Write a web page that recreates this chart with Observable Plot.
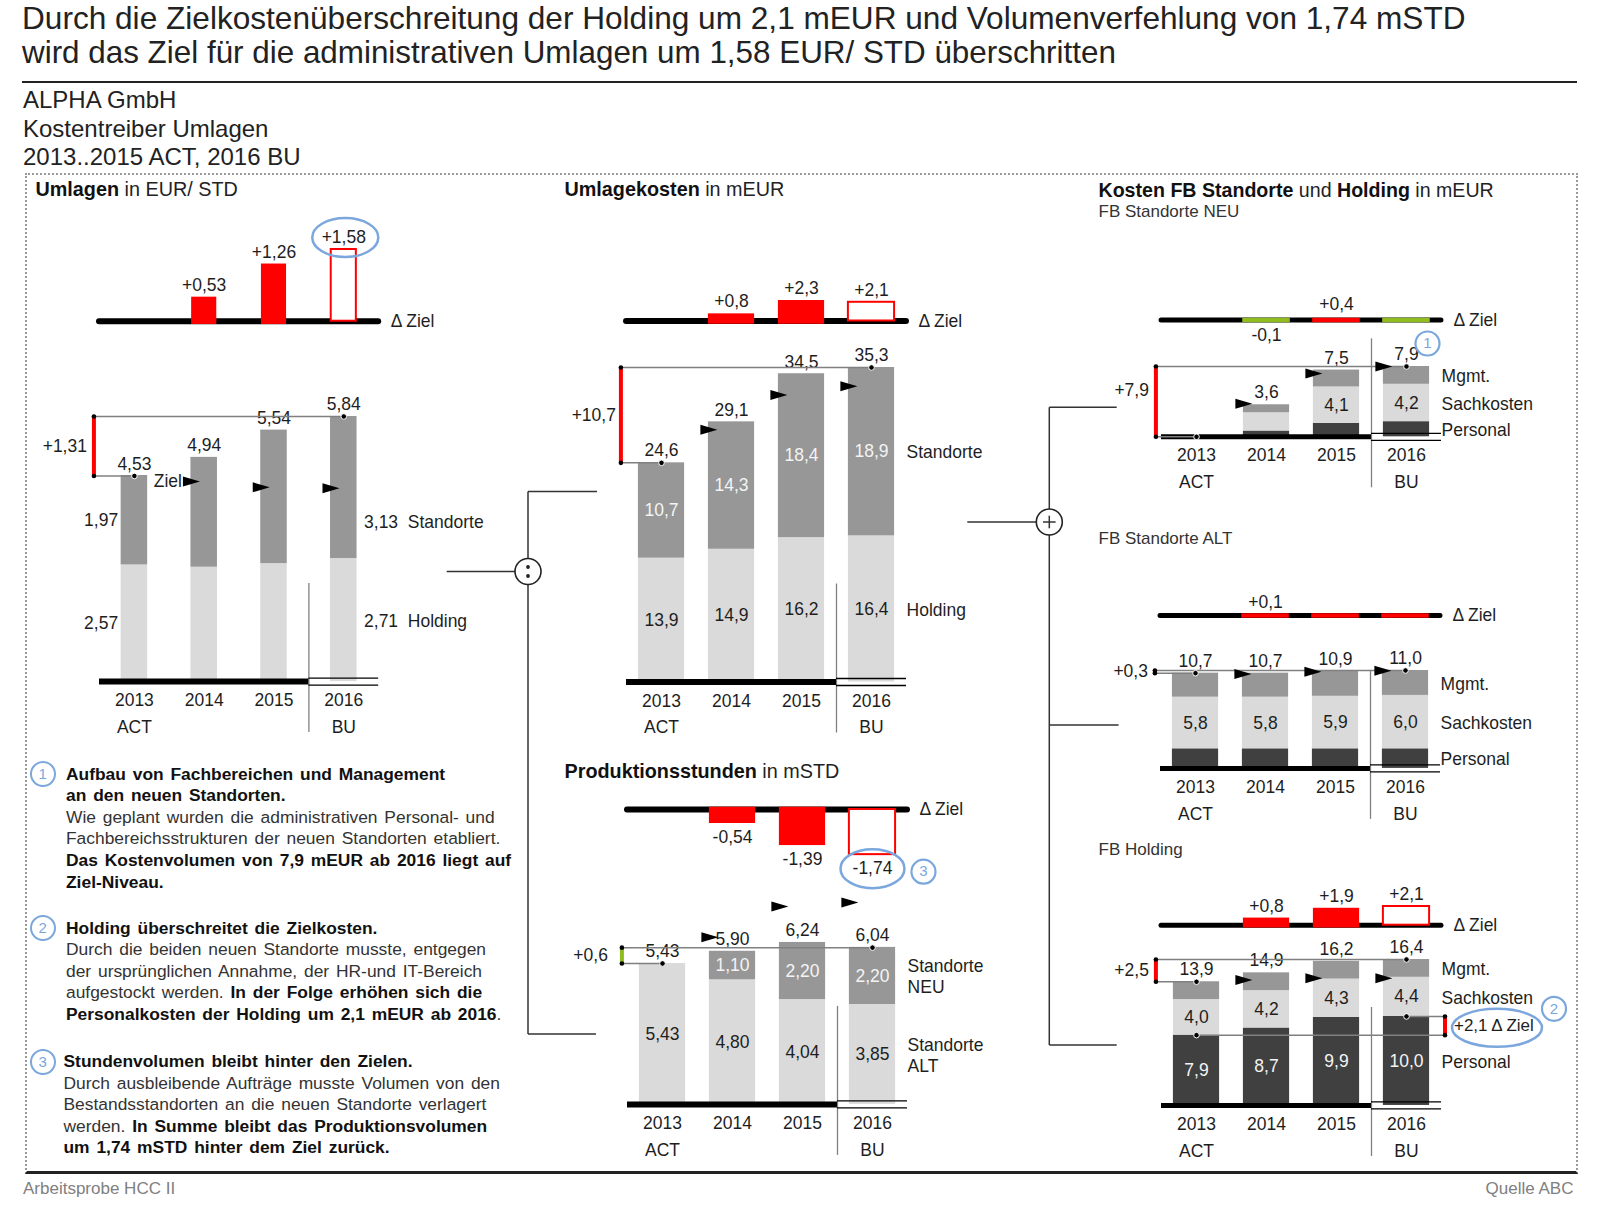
<!DOCTYPE html>
<html><head><meta charset="utf-8">
<script src="https://cdn.jsdelivr.net/npm/d3@7"></script>
<script src="https://cdn.jsdelivr.net/npm/@observablehq/plot@0.6"></script>
<style>
html,body{margin:0;padding:0;background:#fff;}
#root{position:relative;width:1600px;height:1212px;overflow:hidden;font-family:"Liberation Sans",Arial,Helvetica,sans-serif;color:#222;background:#fff;}
.t{position:absolute;white-space:pre;}
.t b{font-weight:bold;color:#111;}
</style></head><body><div id="root"></div>
<script>
// ---------------- DATA ----------------
const years = ["2013", "2014", "2015", "2016"];
const scen = ["ACT", "", "", "BU"];

// Umlagen in EUR/STD
const umlHolding = [2.57, 2.52, 2.60, 2.71];
const umlStandorte = [1.97, 2.42, 2.94, 3.13];
const umlTotal = [4.53, 4.94, 5.54, 5.84];
const umlDelta = [null, 0.53, 1.26, 1.58];

// Umlagekosten in mEUR
const ukHolding = [13.9, 14.9, 16.2, 16.4];
const ukStandorte = [10.7, 14.3, 18.4, 18.9];
const ukTotal = [24.6, 29.1, 34.5, 35.3];
const ukDelta = [null, 0.8, 2.3, 2.1];

// Produktionsstunden in mSTD
const psAlt = [5.43, 4.80, 4.04, 3.85];
const psNeu = [0, 1.10, 2.20, 2.20];
const psTotal = [5.43, 5.90, 6.24, 6.04];
const psDelta = [null, -0.54, -1.39, -1.74];

// FB Standorte NEU
const neuPersonal = [0, 0.65, 1.5, 1.7];
const neuSach = [0, 2.05, 4.1, 4.2];
const neuMgmt = [0, 0.9, 1.9, 2.0];
const neuTotal = [0, 3.6, 7.5, 7.9];
const neuDelta = [null, -0.1, 0.4, 0.0];

// FB Standorte ALT
const altPersonal = [2.2, 2.2, 2.2, 2.2];
const altSach = [5.8, 5.8, 5.9, 6.0];
const altMgmt = [2.7, 2.7, 2.8, 2.8];
const altTotal = [10.7, 10.7, 10.9, 11.0];
const altDelta = [null, 0.1, 0.03, 0.04];

// FB Holding
const holPersonal = [7.9, 8.7, 9.9, 10.0];
const holSach = [4.0, 4.2, 4.3, 4.4];
const holMgmt = [2.0, 2.0, 2.0, 2.0];
const holTotal = [13.9, 14.9, 16.2, 16.4];
const holDelta = [null, 0.8, 1.9, 2.1];

// ---------------- STYLE / LAYOUT ----------------
const FONT = '"Liberation Sans", Arial, Helvetica, sans-serif';
const C = {red: "#ff0000", green: "#8fbc1e", dark: "#404040", mid: "#979797", light: "#dadada",
           ink: "#1e1e1e", line: "#808080", blue: "#7ba7dd"};
const root = document.getElementById("root");
const idx = years.map((_, i) => i);
const fmt = (v, d) => Math.abs(v).toFixed(d).replace(".", ",");
const sfmt = (v, d) => (v > 0 ? "+" : v < 0 ? "-" : "") + fmt(v, d);

const FLAG = {draw(ctx) { ctx.moveTo(-8, -5); ctx.lineTo(9, 0); ctx.lineTo(-8, 5); ctx.closePath(); }};
const ELL = (rx, ry) => ({draw(ctx) {
  const K = 0.5523;
  ctx.moveTo(rx, 0);
  ctx.bezierCurveTo(rx, ry * K, rx * K, ry, 0, ry);
  ctx.bezierCurveTo(-rx * K, ry, -rx, ry * K, -rx, 0);
  ctx.bezierCurveTo(-rx, -ry * K, -rx * K, -ry, 0, -ry);
  ctx.bezierCurveTo(rx * K, -ry, rx, -ry * K, rx, 0);
  ctx.closePath();
}});
function badge(x, y, dx, dy, n) {
  return [
    Plot.dot([0], {x, y, dx, dy, r: 12, fill: "#fff", stroke: C.blue, strokeWidth: 2.2}),
    Plot.text([0], {x, y, dx, dy, text: () => n, fill: C.blue, fontSize: 15})
  ];
}

function txt(x, cy, html, size, extra = {}) {
  const d = document.createElement("div");
  d.className = "t";
  d.innerHTML = html;
  d.style.left = x + "px";
  d.style.top = (cy - size * 0.5) + "px";
  d.style.fontSize = size + "px";
  d.style.lineHeight = size + "px";
  Object.assign(d.style, extra);
  root.appendChild(d);
  return d;
}

function panel(c) {
  const k = c.k, W = c.x1 - c.x0, hw = c.hw, dhw = c.dhw;
  const mk = (lo, hi, base, marks) => {
    const H = (hi - lo) * k;
    const svg = Plot.plot({
      width: W, height: H, margin: 0,
      x: {type: "linear", domain: [-0.5, 3.5], range: [0, W], axis: null},
      y: {type: "linear", domain: [lo, hi], range: [H, 0], axis: null},
      color: {type: "identity"},
      style: {overflow: "visible", background: "none", fontFamily: FONT, fontSize: "17.5px", color: C.ink},
      marks
    });
    svg.style.position = "absolute";
    svg.style.left = c.x0 + "px";
    svg.style.top = (base - hi * k) + "px";
    svg.style.maxWidth = "none";
    root.appendChild(svg);
  };

  // stacked segments
  const rows = [];
  idx.forEach(i => {
    let cum = 0;
    c.segs.forEach((s, j) => { const v = s.vals[i]; rows.push({i, j, y1: cum, y2: cum + v, v, s}); cum += v; });
  });
  const bars = rows.filter(r => r.v > 0);
  const tg = idx.filter(i => c.deltas[i] != null);
  const bad = v => v * c.pol > 0;
  const col = v => bad(v) ? C.red : C.green;
  const b0 = c.totals[0], b1 = c.totals[3], bx = -0.58;
  const mid3 = seg => { const row = rows.find(q => q.i === 3 && q.j === seg); return (row.y1 + row.y2) / 2; };

  const mainMarks = [
    Plot.rect(bars, {x1: r => r.i - hw, x2: r => r.i + hw, y1: "y1", y2: "y2", fill: r => r.s.fill}),
    Plot.text(bars.filter(r => r.s.inLabel && r.v * k >= 22), {x: "i", y: r => (r.y1 + r.y2) / 2, text: r => fmt(r.v, c.dec), fill: r => r.s.tfill}),
    Plot.ruleX([2.5], {y1: 98 / k, y2: -51 / k, stroke: C.line, strokeWidth: 1.3}),
    Plot.ruleY([0], {x1: -0.5, x2: 2.5, stroke: "#000", strokeWidth: c.bw}),
    Plot.ruleY([0], {x1: 2.5, x2: 3.5, stroke: "#000", strokeWidth: 1.3, dy: -3.5}),
    Plot.ruleY([0], {x1: 2.5, x2: 3.5, stroke: "#000", strokeWidth: 1.3, dy: 3.5}),
    Plot.text(idx, {x: d => d, y: 0, dy: 19, text: d => years[d]}),
    Plot.text(idx, {x: d => d, y: 0, dy: 45.5, text: d => scen[d]}),
    Plot.text(idx.filter(i => c.totals[i] > 0), {x: d => d, y: d => c.totals[d], dy: -12, text: d => fmt(c.totals[d], c.dec)}),
    // bracket (difference first year -> budget year)
    Plot.ruleY([b1], {x1: bx, x2: 3, stroke: C.line, strokeWidth: 1.5}),
    Plot.ruleY([b0], {x1: bx, x2: 0, stroke: C.line, strokeWidth: 1.5}),
    Plot.ruleX([bx], {y1: b0, y2: b1, stroke: col(b1 - b0), strokeWidth: 4}),
    Plot.dot([b0, b1], {x: bx, y: d => d, r: 2.3, fill: "#000", stroke: "none"}),
    Plot.dot([[0, b0], [3, b1]], {x: d => d[0], y: d => d[1], r: 2.8, fill: "#000", stroke: "#fff", strokeWidth: 1}),
    Plot.text([0], {x: bx, y: (b0 + b1) / 2, dx: c.bdx, dy: c.bdy, textAnchor: "end", text: () => sfmt(b1 - b0, c.bdec)}),
    // targets
    Plot.dot(tg, {x: i => i - hw, y: i => c.totals[i] - c.deltas[i], symbol: FLAG, r: 5, fill: "#000", stroke: "none"}),
    // right labels
    ...c.right.map(r => Plot.text([r], {x: 3 + hw, y: mid3(r.seg), dx: c.rdx, dy: r.dy || 0, textAnchor: "start", lineHeight: 1.2,
      text: () => (r.val ? fmt(c.segs[r.seg].vals[3], c.dec) + "  " : "") + r.text}))
  ];
  if (c.left) mainMarks.push(
    Plot.text(rows.filter(r => r.i === 0), {x: -hw, y: r => (r.y1 + r.y2) / 2, dx: -3, textAnchor: "end", text: r => fmt(r.v, c.dec)})
  );
  if (c.mainExtra) mainMarks.push(...c.mainExtra(c));
  const tmax = Math.max(...c.totals, ...tg.map(i => c.totals[i] - c.deltas[i]));
  mk(-60 / k, tmax + 30 / k, c.base, mainMarks);

  // delta chart
  const drows = tg.map(i => ({i, v: c.deltas[i], bu: i === 3}));
  const big = d => Math.abs(d.v) * k >= 6;
  const dMarks = [
    Plot.ruleY([0], {x1: -0.5, x2: 3.5, stroke: "#000", strokeWidth: c.bw, strokeLinecap: "round"}),
    Plot.rect(drows.filter(d => big(d) && !d.bu), {x1: d => d.i - dhw, x2: d => d.i + dhw, y1: 0, y2: "v", fill: d => col(d.v)}),
    Plot.rect(drows.filter(d => big(d) && d.bu), {x1: d => d.i - dhw, x2: d => d.i + dhw, y1: 0, y2: "v", fill: "#fff", stroke: d => col(d.v), strokeWidth: 2}),
    Plot.ruleY(drows.filter(d => !(big(d) && d.bu)), {x1: d => d.i - dhw, x2: d => d.i + dhw, y: 0, stroke: d => col(d.v), strokeWidth: c.bw - 0.5}),
    Plot.text(drows.filter(d => d.v > 0 && fmt(d.v, c.dec) !== fmt(0, c.dec)), {x: "i", y: "v", dy: -12, text: d => sfmt(d.v, c.dec)}),
    Plot.text(drows.filter(d => d.v < 0 && fmt(d.v, c.dec) !== fmt(0, c.dec)), {x: "i", y: "v", dy: 14, text: d => sfmt(d.v, c.dec)}),
    Plot.text([0], {x: 3.5, y: 0, dx: 12, textAnchor: "start", text: () => "\u0394 Ziel"})
  ];
  if (c.deltaExtra) dMarks.push(...c.deltaExtra(c));
  const dv = drows.map(d => d.v);
  mk(Math.min(0, ...dv) - 25 / k, Math.max(0, ...dv) + 25 / k, c.dbase, dMarks);
}

// ---------------- FRAME & TEXT ----------------
const box = document.createElement("div");
Object.assign(box.style, {position: "absolute", left: "25px", top: "173px", width: "1549px", height: "996px",
  borderTop: "2px dotted #9a9a9a", borderLeft: "2px dotted #9a9a9a", borderRight: "2px dotted #9a9a9a", borderBottom: "3px solid #222"});
root.appendChild(box);
const rule = document.createElement("div");
Object.assign(rule.style, {position: "absolute", left: "22px", top: "80.5px", width: "1555px", height: "2px", background: "#222"});
root.appendChild(rule);

txt(22, 18.4, "Durch die Zielkostenüberschreitung der Holding um 2,1 mEUR und Volumenverfehlung von 1,74 mSTD", 31.6);
txt(22, 53, "wird das Ziel für die administrativen Umlagen um 1,58 EUR/ STD überschritten", 31.4);
txt(23, 100, "ALPHA GmbH", 24);
txt(23, 128.6, "Kostentreiber Umlagen", 24);
txt(23, 157.1, "2013..2015 ACT, 2016 BU", 24);
txt(23, 1188.8, "Arbeitsprobe HCC II", 17, {color: "#808080"});
const q = txt(0, 1188.8, "Quelle ABC", 17, {color: "#808080"});
q.style.left = ""; q.style.right = (1600 - 1573.5) + "px";

txt(35.5, 190, "<b>Umlagen</b> in EUR/ STD", 19.8);
txt(564.5, 190, "<b>Umlagekosten</b> in mEUR", 19.8);
txt(564.5, 771.7, "<b>Produktionsstunden</b> in mSTD", 19.8);
txt(1098.5, 190.7, "<b>Kosten</b> <b>FB Standorte</b> und <b>Holding</b> in mEUR", 19.6);
txt(1098.5, 211.7, "FB Standorte NEU", 17, {color: "#333"});
txt(1098.5, 538.3, "FB Standorte ALT", 17, {color: "#333"});
txt(1098.5, 849.3, "FB Holding", 17, {color: "#333"});

// Notes
const notes = [
  {n: "1", cy: 774.3, x: 66, lines: [
    "<b>Aufbau von Fachbereichen und Management</b>",
    "<b>an den neuen Standorten.</b>",
    "Wie geplant wurden die administrativen Personal- und",
    "Fachbereichsstrukturen der neuen Standorten etabliert.",
    "<b>Das Kostenvolumen von 7,9 mEUR ab 2016 liegt auf</b>",
    "<b>Ziel-Niveau.</b>"]},
  {n: "2", cy: 928.3, x: 66, lines: [
    "<b>Holding überschreitet die Zielkosten.</b>",
    "Durch die beiden neuen Standorte musste, entgegen",
    "der ursprünglichen Annahme, der HR-und IT-Bereich",
    "aufgestockt werden. <b>In der Folge erhöhen sich die</b>",
    "<b>Personalkosten der Holding um 2,1 mEUR ab 2016</b>."]},
  {n: "3", cy: 1061.7, x: 63.5, lines: [
    "<b>Stundenvolumen bleibt hinter den Zielen.</b>",
    "Durch ausbleibende Aufträge musste Volumen von den",
    "Bestandsstandorten an die neuen Standorte verlagert",
    "werden. <b>In Summe bleibt das Produktionsvolumen</b>",
    "<b>um 1,74 mSTD hinter dem Ziel zurück.</b>"]}
];
notes.forEach(nt => {
  const c = document.createElement("div");
  Object.assign(c.style, {position: "absolute", left: (42.7 - 13) + "px", top: (nt.cy - 13) + "px", width: "22px", height: "22px",
    border: "2px solid " + C.blue, borderRadius: "50%", color: C.blue, fontSize: "15px", lineHeight: "22px", textAlign: "center"});
  c.textContent = nt.n;
  root.appendChild(c);
  nt.lines.forEach((l, j) => txt(nt.x, nt.cy + j * 21.6, l, 17.4, {color: "#333", wordSpacing: "2px"}));
});

// ---------------- PANELS ----------------
panel({
  x0: 99.4, x1: 378.6, k: 45.4, base: 681.5, dbase: 320.8, hw: 0.19, dhw: 0.18, bw: 6,
  dec: 2, bdec: 2, pol: 1, bdx: -7, bdy: 0, rdx: 7,
  segs: [
    {vals: umlHolding, fill: C.light, tfill: C.ink, inLabel: false},
    {vals: umlStandorte, fill: C.mid, tfill: "#fff", inLabel: false}
  ],
  totals: umlTotal, deltas: umlDelta, left: true,
  right: [{seg: 1, text: "Standorte", val: true, dy: 34}, {seg: 0, text: "Holding", val: true}],
  mainExtra: c => [
    Plot.text([1], {x: i => i - c.hw, y: i => umlTotal[i] - umlDelta[i], dx: -9, textAnchor: "end", text: () => "Ziel"})
  ],
  deltaExtra: c => [
    Plot.dot([0], {x: 3, y: umlDelta[3], dx: 1.5, dy: -12, symbol: ELL(33, 19.5), r: 5, fill: "none", stroke: C.blue, strokeWidth: 2.5})
  ]
});

panel({
  x0: 626.3, x1: 906.3, k: 8.91, base: 681.4, dbase: 320.7, hw: 0.33, dhw: 0.33, bw: 6,
  dec: 1, bdec: 1, pol: 1, bdx: -5, bdy: 0, rdx: 12,
  segs: [
    {vals: ukHolding, fill: C.light, tfill: C.ink, inLabel: true},
    {vals: ukStandorte, fill: C.mid, tfill: "#f4f4f4", inLabel: true}
  ],
  totals: ukTotal, deltas: ukDelta,
  right: [{seg: 1, text: "Standorte"}, {seg: 0, text: "Holding"}]
});

panel({
  x0: 627, x1: 907, k: 25.95, base: 1104, dbase: 809.3, hw: 0.33, dhw: 0.33, bw: 6,
  dec: 2, bdec: 1, pol: -1, bdx: -14, bdy: 0, rdx: 12,
  segs: [
    {vals: psAlt, fill: C.light, tfill: C.ink, inLabel: true},
    {vals: psNeu, fill: C.mid, tfill: "#f4f4f4", inLabel: true}
  ],
  totals: psTotal, deltas: psDelta,
  right: [{seg: 1, text: "Standorte\nNEU"}, {seg: 0, text: "Standorte\nALT"}],
  deltaExtra: c => [
    Plot.dot([0], {x: 3, y: psDelta[3], dy: 14, symbol: ELL(32, 19.5), r: 5, fill: "none", stroke: C.blue, strokeWidth: 2.5}),
    ...badge(3, psDelta[3], 51, 17, "3")
  ]
});

const cost3 = (P, S, M) => [
  {vals: P, fill: C.dark, tfill: "#f4f4f4", inLabel: false},
  {vals: S, fill: C.light, tfill: C.ink, inLabel: true},
  {vals: M, fill: C.mid, tfill: "#f4f4f4", inLabel: false}
];
const costRight = [{seg: 2, text: "Mgmt."}, {seg: 1, text: "Sachkosten"}, {seg: 0, text: "Personal"}];

panel({
  x0: 1160.6, x1: 1440.6, k: 8.9, base: 436.7, dbase: 320, hw: 0.33, dhw: 0.34, bw: 5,
  dec: 1, bdec: 1, pol: 1, bdx: -7, bdy: -11, rdx: 12,
  segs: cost3(neuPersonal, neuSach, neuMgmt),
  totals: neuTotal, deltas: neuDelta, right: costRight,
  mainExtra: c => badge(3, neuTotal[3], 21, -23, "1")
});

panel({
  x0: 1160.4, x1: 1440.4, k: 8.9, base: 768.3, dbase: 615, hw: 0.33, dhw: 0.34, bw: 5,
  dec: 1, bdec: 1, pol: 1, bdx: -7, bdy: 0, rdx: 12,
  segs: cost3(altPersonal, altSach, altMgmt),
  totals: altTotal, deltas: altDelta, right: costRight
});

const holSegs = cost3(holPersonal, holSach, holMgmt);
holSegs[0].inLabel = true;
panel({
  x0: 1160.6, x1: 1440.6, k: 8.9, base: 1105, dbase: 925, hw: 0.33, dhw: 0.33, bw: 5,
  dec: 1, bdec: 1, pol: 1, bdx: -7, bdy: 0, rdx: 12,
  segs: holSegs,
  totals: holTotal, deltas: holDelta, right: costRight,
  mainExtra: c => {
    const pA = holPersonal[0], pB = holPersonal[3], rx = 3.55, m = (pA + pB) / 2;
    return [
      Plot.ruleY([pB], {x1: 3, x2: rx, stroke: C.line, strokeWidth: 1.5}),
      Plot.ruleY([pA], {x1: 0, x2: rx, stroke: C.line, strokeWidth: 1.5}),
      Plot.ruleX([rx], {y1: pA, y2: pB, stroke: C.red, strokeWidth: 4}),
      Plot.dot([pA, pB], {x: rx, y: d => d, r: 2.3, fill: "#000", stroke: "none"}),
      Plot.dot([[0, pA], [3, pB]], {x: d => d[0], y: d => d[1], r: 2.8, fill: "#000", stroke: "#fff", strokeWidth: 1}),
      Plot.text([0], {x: rx, y: m, dx: 9, textAnchor: "start", fontSize: 17, text: () => sfmt(pB - pA, 1) + " \u0394 Ziel"}),
      Plot.dot([0], {x: rx, y: m, dx: 52, dy: 2, symbol: ELL(45, 19), r: 5, fill: "none", stroke: C.blue, strokeWidth: 2.5}),
      ...badge(rx, m, 109, -17, "2")
    ];
  }
});

// ---------------- CONNECTORS ----------------
const ov = d3.select(root).append("svg").attr("width", 1600).attr("height", 1212)
  .style("position", "absolute").style("left", 0).style("top", 0).style("pointer-events", "none");
const ln = (x1, y1, x2, y2) => ov.append("line").attr("x1", x1).attr("y1", y1).attr("x2", x2).attr("y2", y2)
  .attr("stroke", "#333").attr("stroke-width", 1.5);
ln(446.7, 571.5, 528, 571.5); ln(528, 491.4, 528, 1034); ln(528, 491.4, 597, 491.4); ln(528, 1034, 596, 1034);
ov.append("circle").attr("cx", 528).attr("cy", 571.5).attr("r", 13).attr("fill", "#fff").attr("stroke", "#222").attr("stroke-width", 1.6);
ov.append("circle").attr("cx", 528).attr("cy", 567).attr("r", 1.9).attr("fill", "#222");
ov.append("circle").attr("cx", 528).attr("cy", 576).attr("r", 1.9).attr("fill", "#222");
ln(967.3, 522, 1049.3, 522); ln(1049.3, 407.3, 1049.3, 1045);
ln(1049.3, 407.3, 1116.7, 407.3); ln(1049.3, 725, 1118.6, 725); ln(1049.3, 1045, 1116.7, 1045);
ov.append("circle").attr("cx", 1049.3).attr("cy", 522).attr("r", 13).attr("fill", "#fff").attr("stroke", "#222").attr("stroke-width", 1.6);
ln(1043, 522, 1055.6, 522); ln(1049.3, 515.7, 1049.3, 528.3);
</script>
</body></html>
